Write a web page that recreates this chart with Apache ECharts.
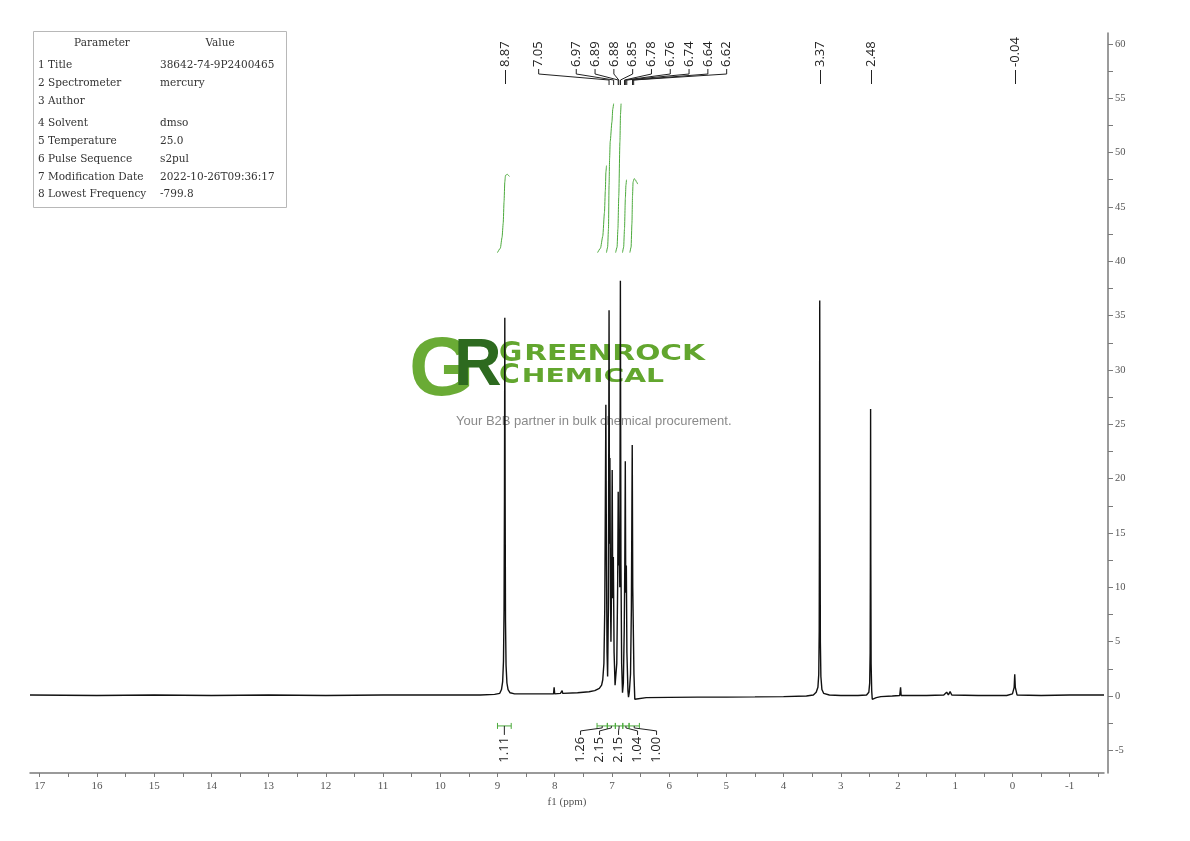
<!DOCTYPE html>
<html><head><meta charset="utf-8">
<script src="https://cdn.jsdelivr.net/npm/echarts@6/dist/echarts.min.js"></script>
<style>html,body{margin:0;padding:0;background:#fff}#c{width:1190px;height:841px}</style>
</head><body><div id="c"></div>
<script>
// ---------------- data ----------------
const paramNames = ['Parameter','1 Title','2 Spectrometer','3 Author','4 Solvent','5 Temperature','6 Pulse Sequence','7 Modification Date','8 Lowest Frequency'];
const paramValues = ['Value','38642-74-9P2400465','mercury','','dmso','25.0','s2pul','2022-10-26T09:36:17','-799.8'];

const xTickLabels = [17,16,15,14,13,12,11,10,9,8,7,6,5,4,3,2,1,0,-1];
const xTicks = [17,16.5,16,15.5,15,14.5,14,13.5,13,12.5,12,11.5,11,10.5,10,9.5,9,8.5,8,7.5,7,6.5,6,5.5,5,4.5,4,3.5,3,2.5,2,1.5,1,0.5,0,-0.5,-1,-1.5];
const yTickLabels = [-5,0,5,10,15,20,25,30,35,40,45,50,55,60];
const yTicks = [-5,-2.5,0,2.5,5,7.5,10,12.5,15,17.5,20,22.5,25,27.5,30,32.5,35,37.5,40,42.5,45,47.5,50,52.5,55,57.5,60];

// spectrum trace [ppm, intensity]
const baseLeft = [[17.17,0.1],[16.0,0.05],[15.0,0.1],[14.0,0.05],[13.0,0.1],[12.0,0.05],[11.0,0.1],[10.0,0.1],[9.3,0.1],[9.05,0.15]];
const peak887 = [[8.96,0.25],[8.93,0.6],[8.91,1.3],[8.895,3.2],[8.885,8],[8.878,18],[8.872,34.8],[8.866,18],[8.86,7],[8.85,2.8],[8.835,1.2],[8.815,0.6],[8.78,0.3],[8.7,0.2]];
const baseMid1 = [[8.4,0.2],[8.1,0.2],[8.02,0.2],[8.01,0.8],[8.0,0.2],[7.9,0.25],[7.87,0.5],[7.86,0.25],[7.6,0.3],[7.4,0.4],[7.3,0.5],[7.22,0.7],[7.18,1.0]];
const aromatic = [[7.16,1.5],[7.14,3],[7.125,8],[7.115,17.7],[7.106,26.8],[7.095,12],[7.085,4],[7.075,1.8],[7.062,8],[7.05,35.5],[7.042,14],[7.035,21.9],[7.025,9],[7.017,5],[7.005,11],[6.995,20.8],[6.985,9],[6.975,12.8],[6.962,4],[6.945,1],[6.93,0.9],[6.915,3],[6.9,10],[6.89,18.8],[6.88,12],[6.872,14],[6.862,10],[6.852,38.2],[6.842,12],[6.83,3],[6.815,0.3],[6.8,1.2],[6.785,6],[6.775,12],[6.766,21.6],[6.758,9.5],[6.748,12],[6.738,4],[6.72,0.5],[6.71,-0.1],[6.695,0.4],[6.675,2],[6.66,8],[6.645,23.1],[6.636,10],[6.628,7],[6.615,2],[6.6,-0.3],[6.58,-0.2]];
const baseMid2 = [[6.4,-0.15],[6.0,-0.12],[5.5,-0.1],[5.0,-0.1],[4.5,-0.08],[4.0,-0.05],[3.6,0.0]];
const peak337 = [[3.48,0.1],[3.43,0.35],[3.4,0.8],[3.385,2],[3.377,6],[3.372,18],[3.368,36.4],[3.363,18],[3.357,5],[3.348,1.8],[3.33,0.6],[3.3,0.25],[3.2,0.1]];
const baseMid3 = [[3.0,0.05],[2.7,0.05],[2.55,0.1]];
const peak248 = [[2.51,0.35],[2.495,1.2],[2.487,4],[2.483,12],[2.479,26.4],[2.475,12],[2.47,3],[2.46,0.5],[2.45,-0.3],[2.43,-0.35],[2.38,-0.15],[2.3,-0.05]];
const baseRight = [[2.1,0.0],[1.97,0.05],[1.955,0.8],[1.945,0.05],[1.5,0.05],[1.2,0.1],[1.15,0.35],[1.12,0.1],[1.09,0.4],[1.06,0.1],[0.6,0.05],[0.1,0.05],[0.0,0.2],[-0.03,0.8],[-0.04,2.0],[-0.05,0.8],[-0.08,0.1],[-0.5,0.05],[-1.0,0.1],[-1.6,0.1]];

// integral curves [ppm, level]
const int887 = [[9.0,40.8],[8.95,41.2],[8.92,42.2],[8.9,43.5],[8.885,45.5],[8.872,47.3],[8.86,47.9],[8.83,48.0],[8.79,47.8]];
const intA1 = [[7.25,40.8],[7.2,41.2],[7.16,42.3],[7.13,44.5],[7.115,46.5],[7.105,48.2],[7.095,48.8]];
const intA2 = [[7.095,40.8],[7.075,41.3],[7.06,43],[7.05,47],[7.04,49.5],[7.03,51],[7.0,52.8],[6.985,54],[6.97,54.5]];
const intA3 = [[6.935,40.8],[6.91,41.3],[6.895,43],[6.88,46],[6.86,51],[6.85,53.5],[6.84,54.5]];
const intA4 = [[6.815,40.8],[6.795,41.3],[6.78,43],[6.765,45.8],[6.755,47],[6.745,47.5]];
const intA5 = [[6.686,40.8],[6.665,41.3],[6.65,43.5],[6.64,46],[6.63,47.3],[6.61,47.6],[6.59,47.5],[6.57,47.3],[6.55,47.1]];

const singlePeakLabels = [8.87, 3.37, 2.48, -0.04];
const multipletLabels = [7.05, 6.97, 6.89, 6.88, 6.85, 6.78, 6.76, 6.74, 6.64, 6.62];
const integralRanges = [[9.00,8.76],[7.26,7.08],[7.08,6.94],[6.94,6.81],[6.81,6.70],[6.70,6.52]];
const integralValues = [1.11, 1.26, 2.15, 2.15, 1.04, 1.00];

const spectrum = [].concat(baseLeft, peak887, baseMid1, aromatic, baseMid2, peak337, baseMid3, peak248, baseRight);
const integralCurves = [int887, intA1, intA2, intA3, intA4, intA5];

// ---------------- chart ----------------
const GREEN = '#4caa3c';
const AX = '#7a7a7a';
const SERIF = '"Liberation Serif", "DejaVu Serif", serif';
const LBLFONT = '"Open Sans", "Noto Sans", sans-serif';

const chart = echarts.init(document.getElementById('c'));
const series = [{
  type: 'line', data: spectrum, showSymbol: false, symbol: 'none', z: 3,
  lineStyle: {color: '#111', width: 1.4}, animation: false
}];
integralCurves.forEach(c => series.push({
  type: 'line', data: c, showSymbol: false, symbol: 'none', smooth: 0.2, smoothMonotone: 'x', z: 3,
  lineStyle: {color: GREEN, width: 1}, animation: false
}));

chart.setOption({
  animation: false,
  backgroundColor: '#fff',
  grid: {left: 30, right: 86, top: 33, bottom: 68, containLabel: false, outerBoundsMode: 'none'},
  xAxis: {
    type: 'value', inverse: true, min: -1.6, max: 17.17,
    axisLine: {show: true, onZero: false, lineStyle: {color: AX, width: 1.5}},
    axisTick: {show: true, length: 4, customValues: xTicks, lineStyle: {color: AX, width: 1}},
    axisLabel: {customValues: xTickLabels, fontFamily: SERIF, fontSize: 11, color: '#555', margin: 8},
    splitLine: {show: false},
    name: 'f1 (ppm)', nameLocation: 'middle', nameGap: 23,
    nameTextStyle: {fontFamily: SERIF, fontSize: 11, color: '#555'}
  },
  yAxis: {
    type: 'value', position: 'right', offset: 4, min: -7.08, max: 61,
    axisLine: {show: true, onZero: false, lineStyle: {color: AX, width: 1.5}},
    axisTick: {show: true, length: 5, customValues: yTicks, lineStyle: {color: AX, width: 1}},
    axisLabel: {customValues: yTickLabels, fontFamily: SERIF, fontSize: 10.5, color: '#555', margin: 7},
    splitLine: {show: false}
  },
  series: series
});

const px = v => chart.convertToPixel({xAxisIndex: 0}, v);
const py = v => chart.convertToPixel({yAxisIndex: 0}, v);
const G = [];
const line = (x1, y1, x2, y2, c) => G.push({type: 'line', silent: true, z: 5, shape: {x1, y1, x2, y2}, style: {stroke: c || '#222', lineWidth: 1}});
const vtext = (x, y, s, align) => G.push({type: 'text', silent: true, z: 5, x: x, y: y, rotation: Math.PI / 2,
  style: {text: s, font: '13px ' + LBLFONT, fill: '#222', align: align, verticalAlign: 'middle'}});

// --- watermark logo ---
const mctx = document.createElement('canvas').getContext('2d');
function measure(font, s) { mctx.font = font; return mctx.measureText(s).width; }
const LOGO = '"DejaVu Sans", sans-serif';
G.push({type: 'text', silent: true, z: 1, x: 409, y: 372, style: {text: 'G', font: 'bold 84px "Liberation Sans", sans-serif', fill: '#6aab35', verticalAlign: 'middle'}});
G.push({type: 'text', silent: true, z: 1, x: 454, y: 367, style: {text: 'R', font: 'bold 66px "Liberation Sans", sans-serif', fill: '#2d6a1f', verticalAlign: 'middle'}});
function wideWord(big, rest, x, yBig, yRest, fBig, fRest, endX) {
  const fb = 'bold ' + fBig + 'px ' + LOGO, fr = 'bold ' + fRest + 'px ' + LOGO;
  const wb = measure(fb, big);
  G.push({type: 'text', silent: true, z: 1, x: x, y: yBig, scaleX: 1.05, style: {text: big, font: fb, fill: '#62a62e', verticalAlign: 'middle'}});
  const sx0 = x + wb * 1.05 + 2;
  const sc = (endX - sx0) / measure(fr, rest);
  G.push({type: 'text', silent: true, z: 1, x: sx0, y: yRest, scaleX: sc, style: {text: rest, font: fr, fill: '#62a62e', verticalAlign: 'middle'}});
}
wideWord('G', 'REENROCK', 499, 354, 355, 27, 21, 705);
wideWord('C', 'HEMICAL', 499, 376, 377.5, 27, 19, 664);
G.push({type: 'text', silent: true, z: 1, x: 456, y: 421, style: {text: 'Your B2B partner in bulk chemical procurement.', font: '13px "Liberation Sans", Arial, sans-serif', fill: '#8a8a8a', verticalAlign: 'middle'}});

// --- parameter table ---
G.push({type: 'rect', silent: true, z: 4, shape: {x: 33.5, y: 31.5, width: 253, height: 176}, style: {fill: '#fff', stroke: '#b8b8b8', lineWidth: 1}});
const rowY = [43, 65, 83, 101, 123, 141, 159, 177, 194];
const TFONT = '10.5px "DejaVu Serif", "Liberation Serif", serif';
paramNames.forEach((n, i) => {
  const hdr = i === 0;
  G.push({type: 'text', silent: true, z: 5, x: hdr ? 102 : 38, y: rowY[i], style: {text: n, font: TFONT, fill: '#333', align: hdr ? 'center' : 'left', verticalAlign: 'middle'}});
  G.push({type: 'text', silent: true, z: 5, x: hdr ? 220 : 160, y: rowY[i], style: {text: paramValues[i], font: TFONT, fill: '#333', align: hdr ? 'center' : 'left', verticalAlign: 'middle'}});
});

// --- peak labels (top) ---
const LBL_BOTTOM = 67;
singlePeakLabels.forEach(p => {
  const x = Math.round(px(p)) + 0.5;
  line(x, 70, x, 84);
  vtext(x, LBL_BOTTOM, p.toFixed(2), 'left');
});
(function () {
  const n = multipletLabels.length, sp = 18.8;
  const lastX = px(multipletLabels[n - 1]) + 93;
  const slots = multipletLabels.map((p, i) => lastX - (n - 1 - i) * sp - (i === 0 ? sp : 0));
  multipletLabels.forEach((p, i) => {
    const x = px(p), s = slots[i];
    vtext(s, LBL_BOTTOM, p.toFixed(2), 'left');
    G.push({type: 'polyline', silent: true, z: 5, shape: {points: [[s, 69], [s, 74], [x, 80], [x, 85]]}, style: {stroke: '#222', fill: null, lineWidth: 1}});
  });
})();

// --- integral labels (bottom) ---
(function () {
  const by = py(-2.75);
  const groups = [];
  integralRanges.forEach((r, i) => {
    const g = groups[groups.length - 1];
    if (g && Math.abs(integralRanges[g[g.length - 1]][1] - r[0]) < 1e-9) g.push(i); else groups.push([i]);
  });
  groups.forEach(g => {
    const centers = g.map(i => (px(integralRanges[i][0]) + px(integralRanges[i][1])) / 2);
    const mean = centers.reduce((a, b) => a + b, 0) / centers.length;
    const sp = 19;
    g.forEach((i, k) => {
      const x1 = px(integralRanges[i][0]), x2 = px(integralRanges[i][1]);
      line(x1, by, x2, by, GREEN);
      line(x1, by - 3, x1, by + 3, GREEN);
      line(x2, by - 3, x2, by + 3, GREEN);
      const c = centers[k];
      const lx = g.length === 1 ? c : mean + (k - (g.length - 1) / 2) * sp;
      if (g.length === 1) {
        line(c, by, c, by + 9);
      } else {
        G.push({type: 'polyline', silent: true, z: 5, shape: {points: [[c, by], [c, by + 2], [lx, by + 5], [lx, by + 9]]}, style: {stroke: '#222', fill: null, lineWidth: 1}});
      }
      vtext(lx, by + 11, integralValues[i].toFixed(2), 'right');
    });
  });
})();

chart.setOption({graphic: {elements: G}});
</script>
</body></html>
